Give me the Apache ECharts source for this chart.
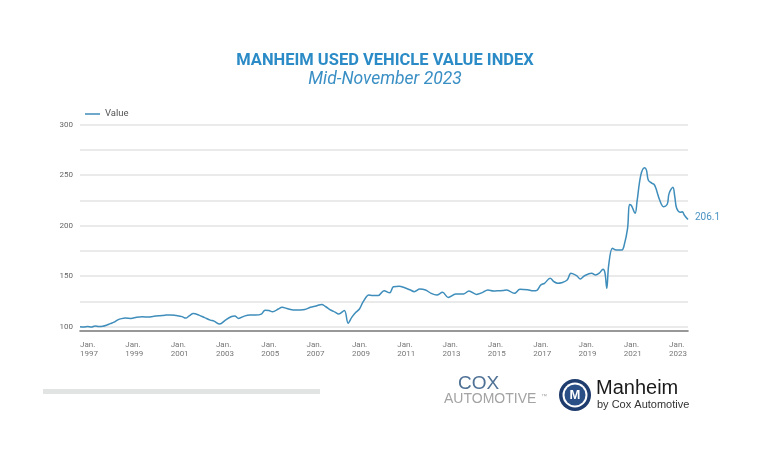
<!DOCTYPE html>
<html>
<head>
<meta charset="utf-8">
<script src="https://cdn.jsdelivr.net/npm/echarts@6/dist/echarts.min.js"></script>
<style>html,body{margin:0;padding:0;background:#fff;}#c{width:770px;height:470px;}</style>
</head>
<body>
<div id="c"></div>
<script>
// Sample dates (YYYY-MM) and index values
const dates = [
'1997-01','1997-03','1997-05','1997-07','1997-09','1997-11',
'1998-01','1998-03','1998-05','1998-07','1998-09','1998-11',
'1999-01','1999-04','1999-07','1999-10',
'2000-01','2000-04','2000-07','2000-10',
'2001-01','2001-04','2001-07','2001-09','2001-11',
'2002-01','2002-04','2002-07','2002-10','2002-12',
'2003-03','2003-06','2003-09','2003-11',
'2004-01','2004-04','2004-07','2004-10',
'2005-01','2005-03','2005-05','2005-07','2005-10','2005-12',
'2006-03','2006-06','2006-09','2006-12',
'2007-03','2007-06','2007-09','2007-11',
'2008-02','2008-04','2008-06','2008-09','2008-11',
'2009-01','2009-03','2009-05','2009-07','2009-10','2009-12',
'2010-03','2010-06','2010-09','2010-11',
'2011-02','2011-05','2011-08','2011-10',
'2012-01','2012-04','2012-07','2012-10',
'2013-01','2013-04','2013-08','2013-12',
'2014-03','2014-07','2014-10',
'2015-01','2015-04','2015-07','2015-09','2015-11',
'2016-03','2016-06','2016-10',
'2017-01','2017-03','2017-05','2017-07','2017-10','2017-12',
'2018-02','2018-04','2018-07','2018-09','2018-12',
'2019-02','2019-04','2019-08','2019-10','2019-12',
'2020-02','2020-03','2020-04','2020-05','2020-07','2020-09','2020-12',
'2021-01','2021-03','2021-04','2021-05','2021-07','2021-08','2021-10','2021-12',
'2022-01','2022-02','2022-04','2022-05','2022-06','2022-08','2022-10','2022-12',
'2023-01','2023-03','2023-04','2023-05','2023-07','2023-08','2023-09','2023-11'
];
const values = [
100,99.8,100.3,99.6,100.8,100.2,
100.5,101.5,103,104.5,106.8,108,
108.5,108.2,109.3,109.8,
109.5,110.3,110.9,111.4,
111.7,111,110,108.5,111,
113,111.5,109,106.5,105.5,
102.6,106.5,109.8,110.5,
108.2,110.5,111.6,111.5,
112.5,116.3,116,114.7,117.5,119.2,
117.8,116.5,116.6,117,
119.2,120.5,122,120,
116.3,114.5,112.6,116,103.5,
109.5,114,117.5,124.8,131.4,131,
131,135.7,133.5,139.6,
140,138.5,136.3,134.7,
137.3,136.3,133,131.4,
134,129,132.4,132.4,
135.3,132,133.7,
136.3,135.3,135.6,135.8,136.3,
133,137,136.5,
135.5,136,141.3,143,147.9,144.6,
143,143.5,146.2,152.9,150.5,
147.2,150.2,152.9,151.2,153,
156.8,153.5,138,161,177.6,175.9,176,
179.2,197.4,221,220,212.3,223.8,250,257.4,
255,245,242,241,237,225.4,218.8,221.2,
232,238,228.7,217.2,213.3,213.9,210.6,206.1
];
const startYear = 1997;
const yTicks = [100, 150, 200, 250, 300];
const seriesName = 'Value';
const titleText = 'MANHEIM USED VEHICLE VALUE INDEX';
const subtitleText = 'Mid-November 2023';

const points = dates.map((d, i) => {
  const [y, m] = d.split('-').map(Number);
  return [y - startYear + (m - 1) / 12, values[i]];
});
const lastX = points[points.length - 1][0];

const chart = echarts.init(document.getElementById('c'), null, {renderer: 'canvas'});
chart.setOption({
  backgroundColor: '#ffffff',
  animation: false,
  title: {
    text: titleText,
    subtext: subtitleText,
    left: 'center',
    top: 47,
    itemGap: 2,
    textStyle: {fontFamily: 'Roboto', fontSize: 16.5, fontWeight: 'bold', color: '#2b8bc6'},
    subtextStyle: {fontFamily: 'Roboto', fontSize: 17.5, fontStyle: 'italic', color: '#3a8fc4'}
  },
  legend: {
    left: 80, top: 104,
    itemWidth: 15, itemHeight: 1.5, itemGap: 4,
    icon: 'rect',
    textStyle: {fontFamily: 'Roboto', fontSize: 9.5, color: '#555'},
    data: [seriesName]
  },
  grid: {left: 80, right: 82, top: 124.7, bottom: 143.3},
  xAxis: {
    type: 'value',
    min: 0, max: lastX, interval: 2,
    offset: 4.5,
    axisLine: {show: true, lineStyle: {color: '#777', width: 1.6}},
    axisTick: {show: false},
    splitLine: {show: false},
    axisLabel: {
      showMaxLabel: false,
      align: 'left',
      margin: 9,
      lineHeight: 9,
      fontFamily: 'Roboto', fontSize: 8, color: '#777',
      formatter: v => (Math.abs(v - Math.round(v)) < 1e-6 && Math.round(v) % 2 === 0) ? 'Jan.\n' + (startYear + Math.round(v)) : ''
    }
  },
  yAxis: {
    type: 'value',
    min: 100, max: 300, interval: 25,
    axisLine: {show: false},
    axisTick: {show: false},
    splitLine: {show: true, lineStyle: {color: '#e3e3e3', width: 1.5}},
    axisLabel: {
      margin: 7,
      fontFamily: 'Roboto', fontSize: 8, color: '#666',
      formatter: v => yTicks.indexOf(v) >= 0 ? String(v) : ''
    }
  },
  series: [{
    name: seriesName,
    type: 'line',
    data: points,
    symbol: 'none',
    smooth: 0.35,
    clip: false,
    lineStyle: {color: '#3e8dbb', width: 1.5},
    itemStyle: {color: '#3e8dbb'},
    endLabel: {
      show: true,
      distance: 7,
      offset: [0, -2],
      fontFamily: 'Roboto', fontSize: 10, color: '#4a93c2',
      formatter: p => String(p.value[1])
    }
  }],
  graphic: [
    {type: 'rect', left: 43, top: 389, shape: {width: 277, height: 5}, style: {fill: '#e2e4e4'}},
    {type: 'text', left: 458, top: 374, style: {text: 'COX', font: '19px "Liberation Sans Narrow", "Liberation Sans", sans-serif', fill: '#4f7196'}},
    {type: 'text', left: 444, top: 392, style: {text: 'AUTOMOTIVE', font: '14px "Liberation Sans Narrow", "Liberation Sans", sans-serif', fill: '#a3a3a3'}},
    {type: 'text', left: 541, top: 393, style: {text: '™', font: '6px sans-serif', fill: '#a3a3a3'}},
    {type: 'circle', shape: {cx: 575, cy: 395, r: 16}, style: {fill: '#1e3c6e'}},
    {type: 'circle', shape: {cx: 575, cy: 395, r: 12.5}, style: {fill: '#ffffff'}},
    {type: 'circle', shape: {cx: 575, cy: 395, r: 10.5}, style: {fill: '#2a4f86'}},
    {type: 'text', x: 575, y: 395, style: {text: 'M', font: 'bold 13px "Liberation Sans", sans-serif', fill: '#ffffff', align: 'center', verticalAlign: 'middle'}},
    {type: 'text', left: 596, top: 378, style: {text: 'Manheim', font: '20px "Liberation Sans", sans-serif', fill: '#1a1a1a'}},
    {type: 'text', left: 597, top: 399, style: {text: 'by Cox Automotive', font: '11px "Liberation Sans", sans-serif', fill: '#333333'}}
  ]
});
</script>
</body>
</html>
